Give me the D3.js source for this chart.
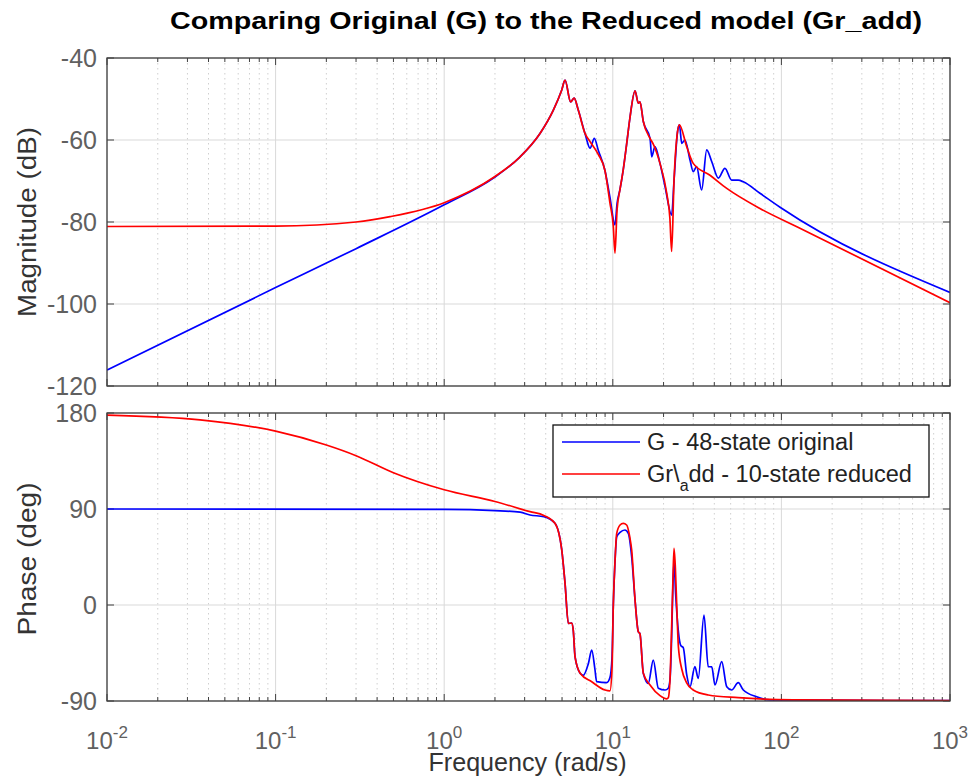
<!DOCTYPE html>
<html><head><meta charset="utf-8">
<script src="https://cdn.jsdelivr.net/npm/d3@7"></script>
<style>body{margin:0;background:#fff}</style>
</head><body>
<svg id="c" width="972" height="776"></svg>
<script>
// ---------- data ----------
const titleText = "Comparing Original (G) to the Reduced model (Gr_add)";
const xTickExps = [-2, -1, 0, 1, 2, 3];
const magTicks = [-120, -100, -80, -60, -40];
const phaseTicks = [-90, 0, 90, 180];
const legendNames = ["G - 48-state original", "Gr\\_add - 10-state reduced"];

const magFreqG = [0.01,0.1,0.3,1,1.97,2.82,3.70,4.44,4.98,5.21,5.62,5.90,6.24,6.84,7.33,7.77,8.20,8.99,9.62,10.3,10.6,11.04,11.53,12.08,12.6,13.55,14.16,14.49,15.17,16.63,17.02,17.78,19.05,20.42,22.34,23.07,24.2,24.83,25.64,26.79,28.71,29.99,31.41,33.65,36.06,38.64,42.27,46.24,50.7,55.46,59.43,74.6,98.17,1000];
const magG = [-116.1,-96,-86.5,-75.8,-69.2,-64.1,-58.4,-52.7,-47.8,-45.4,-50.7,-49.8,-52.7,-58.4,-62,-59.6,-62.5,-67.5,-74,-80.7,-75.5,-72,-67.3,-61,-55,-48,-51,-50.7,-55.5,-59.6,-64.1,-61.6,-65.7,-71.4,-78.3,-70,-58,-56.3,-60.8,-60,-64.9,-67.7,-66.5,-72.2,-62.4,-65.3,-69.3,-66.9,-69.8,-69.8,-70.2,-73,-76.4,-97.2];

const magFreqR = [0.01,0.1,0.3,0.478,1,1.97,2.82,3.70,4.44,4.98,5.21,5.62,5.90,6.24,6.84,7.33,8.20,8.99,9.62,10.07,10.3,10.6,11.04,11.53,12.08,12.6,13.55,14.16,14.49,15.17,16.63,17.38,19.05,20.89,21.8,22.34,23.07,24.2,24.83,27.42,29.99,37.7,47.42,74.6,128.8,1000];
const magR = [-81.1,-81,-80,-78.7,-75.3,-69.1,-64.1,-58.4,-52.7,-47.8,-45.4,-50.7,-49.8,-52.7,-58.4,-60.4,-63.5,-67.5,-75.4,-81.1,-87.6,-77,-72,-67.3,-61,-55,-48,-51,-50.7,-55.5,-59.6,-61,-65.7,-73,-79,-87.2,-70,-58,-56.3,-61.6,-65.7,-68.6,-71.8,-76.7,-81.5,-99.7];

const phFreqG = [0.01,1,2,2.82,3.23,3.90,4.54,4.98,5.21,5.45,5.70,5.83,5.97,6.40,6.68,7.16,7.50,7.83,8.02,9.20,9.62,9.89,10.07,10.3,10.55,11.04,11.8,12.36,12.94,13.55,14.16,14.49,15.17,16.24,17.38,18.62,20.42,21.33,21.84,22.34,22.7,23.07,23.6,24.49,25.3,26.18,27.42,28.71,30.69,32.14,34.75,36.81,38.64,40.36,44.26,47.42,50.7,55.46,59.43,71.29,85.51,1000];
const phG = [90,89.6,88.5,87,84.4,82.8,76.6,51.6,20,-17.2,-17,-24,-48.5,-64,-66,-55,-42.2,-60,-71.9,-72.8,-68,-50,0,40,64,68,70.3,67.2,45.3,4.7,-25,-27,-64,-73.4,-51.6,-78,-79.7,-78,-70,-30,15,40.6,10,-25,-38,-40,-65,-76.6,-57.8,-68.7,-9.4,-57.8,-58,-75,-53.1,-76.6,-79.7,-72.8,-79.7,-86,-89,-89.7];

const phFreqR = [0.01,0.0356,0.1,0.2,0.3,0.5,1,2,3.23,3.90,4.54,4.98,5.21,5.45,5.70,5.83,5.97,6.40,7.50,8.99,9.62,9.89,10.07,10.3,10.55,11.04,11.53,12.08,12.6,12.94,13.55,14.16,14.49,15.17,16.63,19.05,20.89,21.33,21.84,22.34,22.7,23.07,23.5,24.0,24.49,25.64,27.42,29.99,36.81,55.46,117.2,1000];
const phR = [178,173.5,163,150,140,124,108,97,87.5,84,76.6,51.6,20,-17.2,-17,-24,-48.5,-64,-72,-79.7,-80.5,-60,0,40,67.2,75,76.6,75,64,51.6,4.7,-25,-27,-64,-75,-85,-88,-87,-70,-20,20,53.1,35,-5,-39,-60,-73,-79.7,-84.4,-86.9,-89,-89.7];

// ---------- layout ----------
const L = 107, R = 950;
const magTop = 58, magBot = 386, phTop = 413, phBot = 701;
const FONT = "'Liberation Sans', Arial, Helvetica, sans-serif";
const BLUE = "#0000ff", RED = "#ff0000";
const AX = "#404040";
const TICKC = "#606060";

const svg = d3.select("#c");
const x = d3.scaleLog().domain([1e-2, 1e3]).range([L, R]);
const yMag = d3.scaleLinear().domain([-120, -40]).range([magBot, magTop]);
const yPh = d3.scaleLinear().domain([-90, 180]).range([phBot, phTop]);

const majors = xTickExps.map(e => Math.pow(10, e));
const minors = [];
xTickExps.slice(0, -1).forEach(e => { for (let k = 2; k <= 9; k++) minors.push(k * Math.pow(10, e)); });

function panel(y, top, bot, ticks, id) {
  const g = svg.append("g");
  g.selectAll(".mg").data(minors).join("line")
    .attr("x1", d => x(d)).attr("x2", d => x(d)).attr("y1", top).attr("y2", bot)
    .attr("stroke", "#cfcfcf").attr("stroke-width", 1).attr("stroke-dasharray", "1.5,3.5");
  g.selectAll(".Mg").data(majors).join("line")
    .attr("x1", d => x(d)).attr("x2", d => x(d)).attr("y1", top).attr("y2", bot)
    .attr("stroke", "#d9d9d9").attr("stroke-width", 1);
  g.selectAll(".Yg").data(ticks).join("line")
    .attr("x1", L).attr("x2", R).attr("y1", d => y(d)).attr("y2", d => y(d))
    .attr("stroke", "#d9d9d9").attr("stroke-width", 1);
  svg.append("clipPath").attr("id", id).append("rect")
    .attr("x", L).attr("y", top).attr("width", R - L).attr("height", bot - top);
  const tk = svg.append("g").attr("stroke", AX).attr("stroke-width", 1);
  majors.forEach(d => {
    tk.append("line").attr("x1", x(d)).attr("x2", x(d)).attr("y1", bot).attr("y2", bot - 7);
    tk.append("line").attr("x1", x(d)).attr("x2", x(d)).attr("y1", top).attr("y2", top + 7);
  });
  minors.forEach(d => {
    tk.append("line").attr("x1", x(d)).attr("x2", x(d)).attr("y1", bot).attr("y2", bot - 4);
    tk.append("line").attr("x1", x(d)).attr("x2", x(d)).attr("y1", top).attr("y2", top + 4);
  });
  ticks.forEach(d => {
    tk.append("line").attr("x1", L).attr("x2", L + 7).attr("y1", y(d)).attr("y2", y(d));
    tk.append("line").attr("x1", R).attr("x2", R - 7).attr("y1", y(d)).attr("y2", y(d));
  });
  svg.append("g").selectAll("text").data(ticks).join("text")
    .attr("x", L - 10).attr("y", d => y(d)).attr("dy", "0.36em")
    .attr("text-anchor", "end").attr("font-family", FONT).attr("font-size", 25)
    .attr("fill", TICKC).text(d => d);
  return g;
}

panel(yMag, magTop, magBot, magTicks, "clipMag");
panel(yPh, phTop, phBot, phaseTicks, "clipPh");

function curve(freqs, vals, y, color, clip) {
  const pts = freqs.map((f, i) => [f, vals[i]]);
  const line = d3.line().x(d => x(d[0])).y(d => y(d[1])).curve(d3.curveMonotoneX);
  svg.append("path").datum(pts).attr("d", line)
    .attr("fill", "none").attr("stroke", color).attr("stroke-width", 1.7)
    .attr("stroke-linejoin", "round").attr("clip-path", `url(#${clip})`);
}
curve(magFreqG, magG, yMag, BLUE, "clipMag");
curve(magFreqR, magR, yMag, RED, "clipMag");
curve(phFreqG, phG, yPh, BLUE, "clipPh");
curve(phFreqR, phR, yPh, RED, "clipPh");

[[magTop, magBot], [phTop, phBot]].forEach(([t, b]) => {
  svg.append("rect").attr("x", L).attr("y", t).attr("width", R - L).attr("height", b - t)
    .attr("fill", "none").attr("stroke", AX).attr("stroke-width", 1.3);
});

// x tick labels
const xl = svg.append("g").attr("font-family", FONT).attr("fill", TICKC);
xTickExps.forEach(e => {
  const t = xl.append("text").attr("x", x(Math.pow(10, e))).attr("y", 749)
    .attr("text-anchor", "middle").attr("font-size", 24);
  t.append("tspan").text("10");
  t.append("tspan").attr("dy", -11).attr("font-size", 17).text(String(e));
});

// axis labels
const lab = svg.append("g").attr("font-family", FONT).attr("fill", "#333").attr("font-size", 25);
lab.append("text").attr("x", (L + R) / 2 - 1).attr("y", 771).attr("text-anchor", "middle")
  .attr("textLength", 198).attr("lengthAdjust", "spacingAndGlyphs").text("Frequency  (rad/s)");
lab.append("text").attr("transform", `translate(36,${(magTop + magBot) / 2}) rotate(-90)`)
  .attr("text-anchor", "middle").attr("font-size", 26).attr("textLength", 190).attr("lengthAdjust", "spacingAndGlyphs")
  .text("Magnitude (dB)");
lab.append("text").attr("transform", `translate(36,${(phTop + phBot) / 2 + 2}) rotate(-90)`)
  .attr("text-anchor", "middle").attr("font-size", 26).attr("textLength", 153).attr("lengthAdjust", "spacingAndGlyphs")
  .text("Phase (deg)");

// title
svg.append("text").attr("x", 546).attr("y", 29).attr("text-anchor", "middle")
  .attr("font-family", FONT).attr("font-weight", "bold").attr("font-size", 24)
  .attr("textLength", 752).attr("lengthAdjust", "spacingAndGlyphs")
  .attr("fill", "#000").text(titleText);

// legend
const lg = svg.append("g");
lg.append("rect").attr("x", 553).attr("y", 425).attr("width", 376).attr("height", 72)
  .attr("fill", "#fff").attr("stroke", "#111").attr("stroke-width", 1.3);
[[BLUE, 442], [RED, 474]].forEach(([c, yy]) => {
  lg.append("line").attr("x1", 562).attr("x2", 640).attr("y1", yy).attr("y2", yy)
    .attr("stroke", c).attr("stroke-width", 1.7);
});
lg.append("text").attr("x", 647).attr("y", 442).attr("dy", "0.36em")
  .attr("font-family", FONT).attr("font-size", 23.5).attr("fill", "#222").text(legendNames[0]);
const parts = legendNames[1].split("\\_");
const t2 = lg.append("text").attr("x", 647).attr("y", 474).attr("dy", "0.36em")
  .attr("font-family", FONT).attr("font-size", 23.5).attr("fill", "#222");
t2.append("tspan").text(parts[0] + "\\");
t2.append("tspan").attr("dy", 9).attr("font-size", 16).text(parts[1].charAt(0));
t2.append("tspan").attr("dy", -9).text(parts[1].slice(1));
</script>
</body></html>
